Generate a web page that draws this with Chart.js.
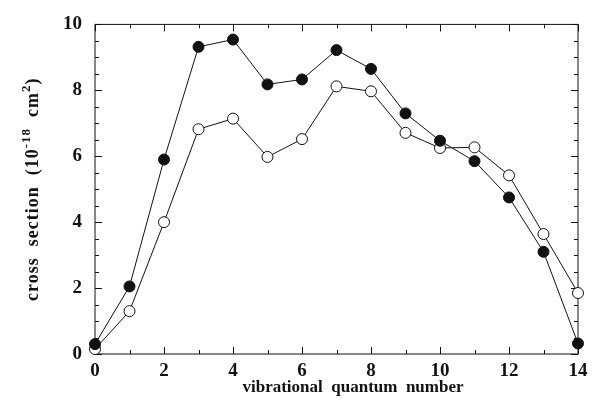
<!DOCTYPE html>
<html>
<head>
<meta charset="utf-8">
<script src="https://cdn.jsdelivr.net/npm/chart.js@4"></script>
<style>
  html, body { margin: 0; padding: 0; background: #fff; }
  #wrap { width: 595px; height: 402px; }
</style>
</head>
<body>
<div id="wrap"><canvas id="xsChart" width="595" height="402"></canvas></div>
<script>
// vibrational quantum numbers
const vLevels = [0, 1, 2, 3, 4, 5, 6, 7, 8, 9, 10, 11, 12, 13, 14];
// filled circles
const filledVals = [0.3, 2.05, 5.9, 9.32, 9.54, 8.18, 8.33, 9.22, 8.65, 7.3, 6.47, 5.85, 4.75, 3.1, 0.32];
// open circles
const openVals = [0.15, 1.3, 4.0, 6.82, 7.14, 5.98, 6.52, 8.12, 7.97, 6.71, 6.25, 6.27, 5.42, 3.64, 1.85];
const xTicks = [0, 2, 4, 6, 8, 10, 12, 14];
const yTicks = [0, 2, 4, 6, 8, 10];

const serif = '"Liberation Serif", "Times New Roman", serif';

// frame, inward ticks and axis titles
const frameTicks = {
  id: 'frameTicks',
  beforeDatasetsDraw(chart) {
    const ctx = chart.ctx;
    const a = chart.chartArea;
    const xs = chart.scales.x, ys = chart.scales.y;
    ctx.save();
    ctx.strokeStyle = '#111';
    ctx.lineWidth = 1;
    ctx.strokeRect(a.left, a.top, a.right - a.left, a.bottom - a.top);
    ctx.beginPath();
    for (let v = 0; v <= 14; v++) {
      const len = v % 2 === 0 ? 7 : 4;
      const px = Math.round(xs.getPixelForValue(v)) + 0.5;
      ctx.moveTo(px, a.bottom); ctx.lineTo(px, a.bottom - len);
      ctx.moveTo(px, a.top); ctx.lineTo(px, a.top + len);
    }
    for (let v = 0; v <= 10; v += 0.5) {
      const len = v % 2 === 0 ? 7 : 4;
      const py = Math.round(ys.getPixelForValue(v)) + 0.5;
      ctx.moveTo(a.left, py); ctx.lineTo(a.left + len, py);
      ctx.moveTo(a.right, py); ctx.lineTo(a.right - len, py);
    }
    ctx.stroke();
    ctx.restore();
  },
  afterDraw(chart) {
    const ctx = chart.ctx;
    const a = chart.chartArea;
    ctx.save();
    ctx.fillStyle = '#111';
    // x title
    ctx.font = 'bold 17px ' + serif;
    ctx.textAlign = 'center';
    ctx.textBaseline = 'middle';
    ctx.fillText('vibrational  quantum  number', 353, 388);
    // y title with superscripts
    ctx.letterSpacing = '1px';
    const parts = [
      ['cross  section  (10', false],
      ['-18', true],
      ['  cm', false],
      ['2', true],
      [')', false]
    ];
    const big = 'bold 18px ' + serif, small = 'bold 13px ' + serif;
    let total = 0;
    parts.forEach(p => { ctx.font = p[1] ? small : big; total += ctx.measureText(p[0]).width; });
    ctx.translate(31, (a.top + a.bottom) / 2);
    ctx.rotate(-Math.PI / 2);
    ctx.textAlign = 'left';
    ctx.textBaseline = 'alphabetic';
    let x = -total / 2;
    parts.forEach(p => {
      ctx.font = p[1] ? small : big;
      ctx.fillText(p[0], x, p[1] ? -1 : 7);
      x += ctx.measureText(p[0]).width;
    });
    ctx.restore();
  }
};

const ctx = document.getElementById('xsChart').getContext('2d');
new Chart(ctx, {
  type: 'line',
  data: {
    datasets: [
      {
        label: 'filled',
        data: vLevels.map((v, i) => ({ x: v, y: filledVals[i] })),
        borderColor: '#111',
        borderWidth: 1,
        backgroundColor: '#111',
        pointBackgroundColor: '#111',
        pointBorderColor: '#111',
        pointRadius: 5.5,
        clip: false
      },
      {
        label: 'open',
        data: vLevels.map((v, i) => ({ x: v, y: openVals[i] })),
        borderColor: '#111',
        borderWidth: 1,
        backgroundColor: '#fff',
        pointBackgroundColor: '#fff',
        pointBorderColor: '#111',
        pointBorderWidth: 1,
        pointRadius: 5.5,
        clip: false
      }
    ]
  },
  options: {
    responsive: false,
    animation: false,
    layout: { padding: { left: 0, right: 17, top: 18, bottom: 0 } },
    plugins: { legend: { display: false }, tooltip: { enabled: false } },
    scales: {
      x: {
        type: 'linear',
        min: 0, max: 14,
        afterFit(s) { s.height = 48; },
        afterBuildTicks(s) { s.ticks = xTicks.map(v => ({ value: v })); },
        grid: { display: false, drawTicks: false },
        border: { display: false },
        ticks: { color: '#111', padding: 6, font: { family: serif, size: 19, weight: 'bold' } }
      },
      y: {
        min: 0, max: 10,
        afterFit(s) { s.width = 95; },
        afterBuildTicks(s) { s.ticks = yTicks.map(v => ({ value: v })); },
        grid: { display: false, drawTicks: false },
        border: { display: false },
        ticks: { color: '#111', padding: 13, font: { family: serif, size: 19, weight: 'bold' } }
      }
    }
  },
  plugins: [frameTicks]
});
</script>
</body>
</html>
